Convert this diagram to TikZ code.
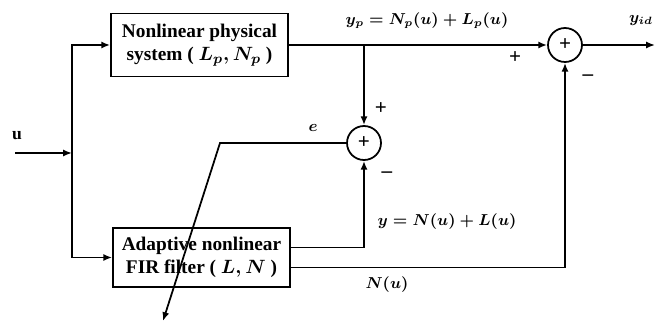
\documentclass[tikz,border=0pt]{standalone}
\usepackage{fontspec}
\setmainfont{Liberation Serif}
\usetikzlibrary{arrows.meta}
\begin{document}
\boldmath
\begin{tikzpicture}[x=0.02cm,y=-0.02cm,line width=1pt,>={Latex[length=5pt,width=4pt]},
  block/.style={draw,rectangle,align=center,minimum width=3.54cm,font=\fontsize{11}{13}\selectfont\bfseries},
  summer/.style={draw,circle,minimum size=0.68cm,inner sep=0pt,font=\large\bfseries},
  sign/.style={font=\large\bfseries},
  lbl/.style={font=\small}]
\useasboundingbox (0,0) rectangle (659,324);
\node[block,minimum height=1.26cm] (plant) at (199.5,45) {Nonlinear physical\\system ( $L_p, N_p$ )};
\node[block,minimum height=1.18cm] (filter) at (201.5,257.5) {Adaptive nonlinear\\FIR filter ( $L, N$ )};
\node[summer] (sumE) at (364,143) {+};
\node[summer] (sumOut) at (565,45) {+};
\coordinate (in) at (15,153);
\coordinate (split) at (72,153);
\coordinate (tap) at (364,45);
\coordinate (ecorner) at (220,143);
\coordinate (eend) at (163,321);
\coordinate (out) at (655,45);
\draw[->] (in) -- (split);
\draw[->] (split) |- (plant.west);
\draw[->] (split) |- (filter.west);
\draw[->] (plant.east) -- (sumOut.west);
\draw[->] (tap) -- (sumE.north);
\draw[->] ([yshift=0.2cm]filter.east) -| (sumE.south);
\draw[->] ([yshift=-0.2cm]filter.east) -| (sumOut.south);
\draw[->] (sumE.west) -- (ecorner) -- (eend);
\draw[->] (sumOut.east) -- (out);
% labels
\node (lu) at (17,136) {\bfseries u};
\node[lbl] (lyp) at (427,21) {$y_p = N_p(u) + L_p(u)$};
\node[lbl] (lyid) at (641,21) {$y_{id}$};
\node[sign] (lp1) at (515,58) {+};
\node[sign] (lm1) at (588,78) {--};
\node[sign] (lp2) at (381,109) {+};
\node[lbl] (le) at (313,128) {$e$};
\node[sign] (lm2) at (387,175) {--};
\node[lbl] (ly) at (447,222) {$y = N(u) + L(u)$};
\node[lbl] (lN) at (387,285) {$N(u)$};
\end{tikzpicture}
\end{document}
